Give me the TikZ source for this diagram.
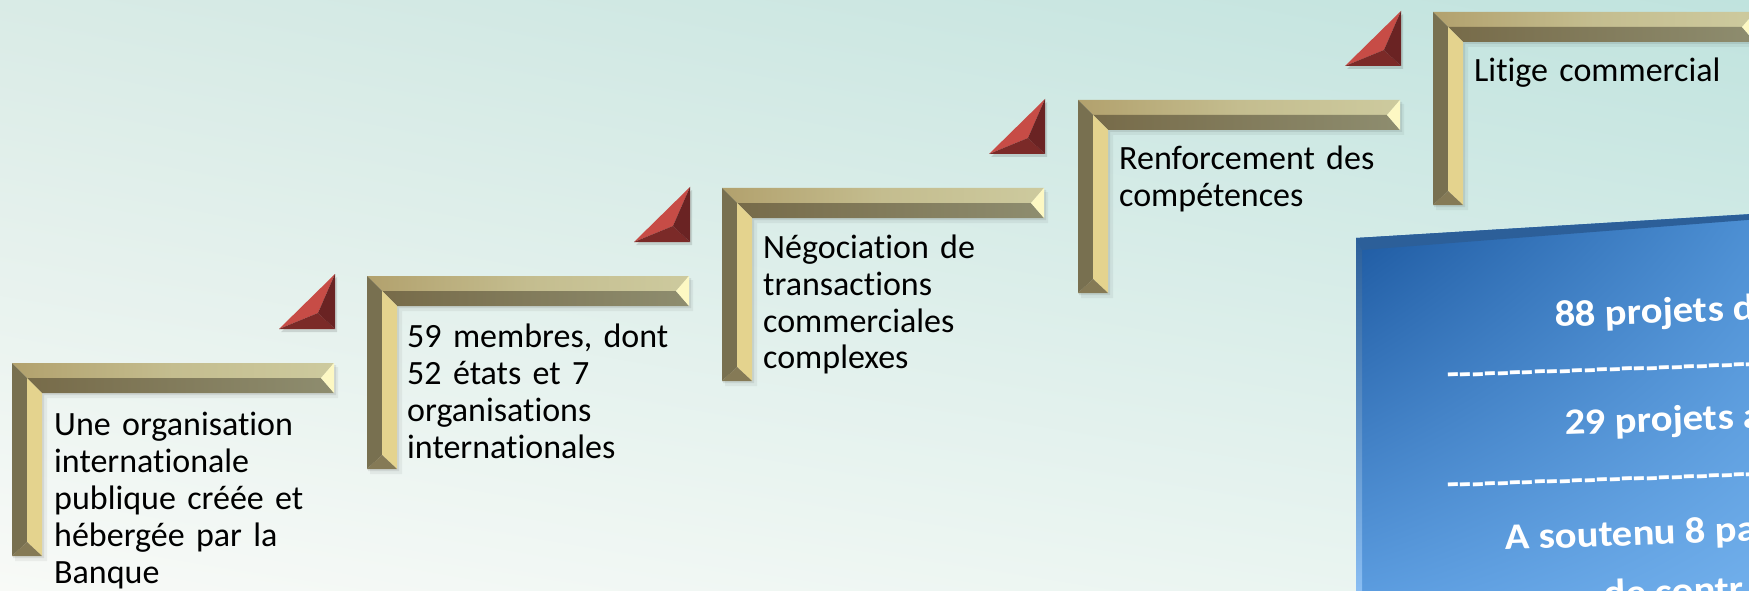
\documentclass[tikz,border=0pt]{standalone}
\usepackage{fontspec}
\newfontfamily\stepfont{Carlito}[Ligatures=NoCommon]
\newfontfamily\panelfont{Carlito}[Ligatures=NoCommon, FakeStretch=1.1]
\usetikzlibrary{shadings}
\definecolor{bgTL}{HTML}{D9EBE6}
\definecolor{bgTR}{HTML}{C0E3DE}
\definecolor{bgBL}{HTML}{F8FAF7}
\definecolor{bgBR}{HTML}{E6F3EF}
\definecolor{goldTopL}{HTML}{B2A16D}
\definecolor{goldTopM}{HTML}{C4BD8F}
\definecolor{goldTopR}{HTML}{CDCA9E}
\definecolor{goldLowL}{HTML}{776B49}
\definecolor{goldLowR}{HTML}{8E8D6F}
\definecolor{goldCap}{HTML}{FDF8C3}
\definecolor{goldLeft}{HTML}{787050}
\definecolor{goldRight}{HTML}{E4D38E}
\definecolor{goldFoot}{HTML}{857A56}
\definecolor{redLit}{HTML}{C74C46}
\definecolor{redLow}{HTML}{7B2A28}
\definecolor{redDark}{HTML}{6A2323}
\definecolor{boxTL}{HTML}{1B579F}
\definecolor{boxTR}{HTML}{4D90D4}
\definecolor{boxBL}{HTML}{5C9DE0}
\definecolor{boxBR}{HTML}{72B0EC}
\definecolor{boxRim}{HTML}{2C5F99}
\definecolor{boxEdge}{HTML}{8CC0F5}
\begin{document}
\begin{tikzpicture}[x=1pt,y=-1pt,
  steptext/.style={anchor=base west, inner sep=0pt, text width=320pt, align=left,
    font=\stepfont\fontsize{34}{37}\selectfont, text=black},
  boxtext/.style={anchor=base west, inner sep=0pt, text=white, rotate=2,
    font=\panelfont\bfseries\fontsize{37}{44}\selectfont},
  % gold L-shaped frame, origin at its outer corner
  stepframe/.pic={
    \fill[black,opacity=0.05] (3,4) -- (326,4) -- (326,35) -- (35,35) -- (35,198) -- (3,198) -- cycle;
    \fill[black,opacity=0.08] (1,2) -- (324,2) -- (324,32) -- (32,32) -- (32,195) -- (1,195) -- cycle;
    \shade[left color=goldTopL, right color=goldTopR, middle color=goldTopM]
      (0,0) -- (322,0) -- (309,15) -- (15,15) -- cycle;
    \shade[left color=goldLowL, right color=goldLowR]
      (15,15) -- (309,15) -- (322,30) -- (30,30) -- cycle;
    \fill[goldCap] (322,0) -- (322,30) -- (309,15) -- cycle;
    \fill[goldLeft] (0,0) -- (15,15) -- (15,179) -- (0,193) -- cycle;
    \fill[goldRight] (15,15) -- (30,30) -- (30,193) -- (15,179) -- cycle;
    \fill[goldFoot] (0,193) -- (15,179) -- (30,193) -- cycle;
  },
  % red bevelled wedge, origin at its right-angle corner
  redwedge/.pic={
    \fill[black,opacity=0.12] (2,3) -- (-54,3) -- (2,-52) -- cycle;
    \fill[redLit] (0,-55) -- (-56,0) -- (-17,-16) -- cycle;
    \fill[redLow] (-56,0) -- (0,0) -- (-17,-16) -- cycle;
    \fill[redDark] (0,-55) -- (0,0) -- (-17,-16) -- cycle;
  }]
\useasboundingbox (0,0) rectangle (1749,591);
\clip (0,0) rectangle (1749,591);

% background
\shade[upper left=bgTL, upper right=bgTR, lower left=bgBL, lower right=bgBR]
  (0,0) rectangle (1749,591);

% staircase of frames
\pic at (12,363) {stepframe};
\pic at (367,276) {stepframe};
\pic at (722,188) {stepframe};
\pic at (1078,100) {stepframe};
\pic at (1433,12) {stepframe};

% wedges above each frame end
\pic at (335,329) {redwedge};
\pic at (690,242) {redwedge};
\pic at (1045,154) {redwedge};
\pic at (1401,66) {redwedge};

% step labels
\node[steptext] (t1) at (54,435) {Une organisation\\internationale\\publique créée et\\hébergée par la\\Banque};
\node[steptext] (t2) at (407,347) {59 membres, dont\\52 états et 7\\organisations\\internationales};
\node[steptext] (t3) at (763,258) {Négociation de\\transactions\\commerciales\\complexes};
\node[steptext] (t4) at (1119,170) {Renforcement des\\compétences};
\node[steptext] (t5) at (1474,82) {Litige commercial};

% blue panel
\shade[upper left=boxTL, upper right=boxTR, lower left=boxBL, lower right=boxBR]
  (1356,238) -- (1760,213.5) -- (1760,600) -- (1356,600) -- cycle;
\fill[boxRim] (1356,238) -- (1760,213.5) -- (1760,219) -- (1362,250) -- cycle;
\shade[top color=boxRim, bottom color=boxEdge]
  (1356,238) -- (1362,250) -- (1362,600) -- (1356,600) -- cycle;

\node[boxtext] (p1) at (1555,327) {88 projets d};
\node[boxtext] (d1) at (1447,386) {----------------------------};
\node[boxtext] (p2) at (1565,435) {29 projets a};
\node[boxtext] (d2) at (1447,496) {----------------------------};
\node[boxtext] (p3) at (1505,550) {A soutenu 8 pa};
\node[boxtext] (p4) at (1604,606) {de contr};
\end{tikzpicture}
\end{document}
